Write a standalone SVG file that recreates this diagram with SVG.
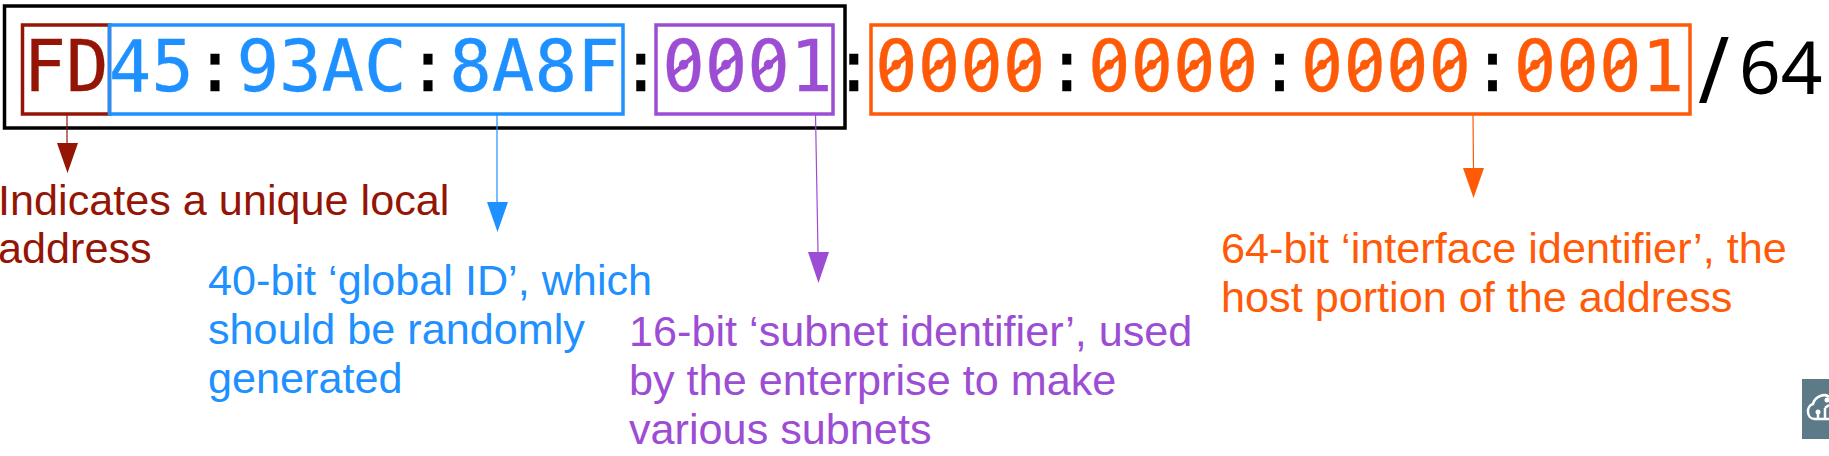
<svg xmlns="http://www.w3.org/2000/svg" width="1829" height="456" viewBox="0 0 1829 456">
<style>
.addr{font-family:"DejaVu Sans Mono",monospace;font-size:70.73px;stroke-width:.3;stroke:currentColor}
.lab{font-family:"Liberation Sans",Arial,sans-serif;font-size:43.2px}
.box{fill:none;stroke-width:3.5}
.red{fill:#941505;color:#941505}.blue{fill:#1e90ff;color:#1e90ff}.pur{fill:#9c4dd4;color:#9c4dd4}.ora{fill:#ff5a08;color:#ff5a08}
.c{stroke-width:1.2;fill:none}
.z{fill:none;stroke-width:4.5}
</style>
<rect width="1829" height="456" fill="#fff"/>
<g id="prefix-frame"><rect x="4.500" y="6" width="840.500" height="122" fill="none" stroke="#000" stroke-width="3.500"/></g>
<g id="address"><text class="addr" x="23.500" y="91"><tspan class="red">FD</tspan><tspan class="blue">45</tspan>:<tspan class="blue">93AC</tspan>:<tspan class="blue">8A8F</tspan>:<tspan class="pur">0001</tspan>:<tspan class="ora">0000</tspan>:<tspan class="ora">0000</tspan>:<tspan class="ora">0000</tspan>:<tspan class="ora">0001</tspan></text>
<path class="z" stroke="#9c4dd4" d="M670.500 76l26-22M713.100 76l26-22M755.600 76l26-22"/>
<path class="z" stroke="#ff5a08" d="M883.400 76l26-22M926 76l26-22M968.600 76l26-22M1011.200 76l26-22M1096.300 76l26-22M1138.900 76l26-22M1181.500 76l26-22M1224 76l26-22M1309.200 76l26-22M1351.800 76l26-22M1394.400 76l26-22M1437 76l26-22M1522.100 76l26-22M1564.700 76l26-22M1607.300 76l26-22"/>
<text transform="translate(1699 96) scale(1.1 1)" font-family="'DejaVu Sans',sans-serif" font-size="80">/</text><text x="1739" y="94" font-family="'Noto Sans',sans-serif" font-size="73">64</text></g>
<g id="fd-node"><rect class="box" x="22.500" y="25" width="87" height="89" stroke="#941505"/>
<text class="lab red" x="-2" y="215">Indicates a unique local</text><text class="lab red" x="-2" y="263">address</text></g>
<g id="global-id-node"><rect class="box" x="109.500" y="25" width="513.500" height="89" stroke="#1e90ff"/>
<text class="lab blue" x="208" y="295">40-bit ‘global ID’, which</text><text class="lab blue" x="208" y="344">should be randomly</text><text class="lab blue" x="208" y="393">generated</text></g>
<g id="subnet-node"><rect class="box" x="656" y="25" width="177" height="89" stroke="#9c4dd4"/>
<text class="lab pur" x="629" y="346">16-bit ‘subnet identifier’, used</text><text class="lab pur" x="629" y="395">by the enterprise to make</text><text class="lab pur" x="629" y="444">various subnets</text></g>
<g id="interface-node"><rect class="box" x="871" y="25" width="819" height="89" stroke="#ff5a08"/>
<text class="lab ora" x="1221" y="263">64-bit ‘interface identifier’, the</text><text class="lab ora" x="1221" y="312">host portion of the address</text></g>
<g id="connectors">
<path class="c" stroke="#941505" d="M67 114V144"/><path class="red" d="M57 143H78L67.500 173Z"/>
<path class="c" stroke="#1e90ff" d="M497 114V203"/><path class="blue" d="M487 202H508L497.500 232Z"/>
<path class="c" stroke="#9c4dd4" d="M815.500 114L818 252"/><path class="pur" d="M808 252H829L818.500 283Z"/>
<path class="c" stroke="#ff5a08" d="M1473 114L1473.500 169"/><path class="ora" d="M1463 168H1484L1473.500 198Z"/>
</g>
<g id="badge"><rect x="1802" y="379" width="27" height="60" fill="#5c7a87"/>
<path d="M1829 419H1815C1806 419 1806 406 1813 404C1815 396 1825 393 1829 397M1818 419V413M1825 419V408M1825 408L1829 405" fill="none" stroke="#fff" stroke-width="2.500"/><circle cx="1818" cy="412" r="2.500" fill="#fff"/><circle cx="1827" cy="400" r="2.500" fill="#fff"/></g>
</svg>
